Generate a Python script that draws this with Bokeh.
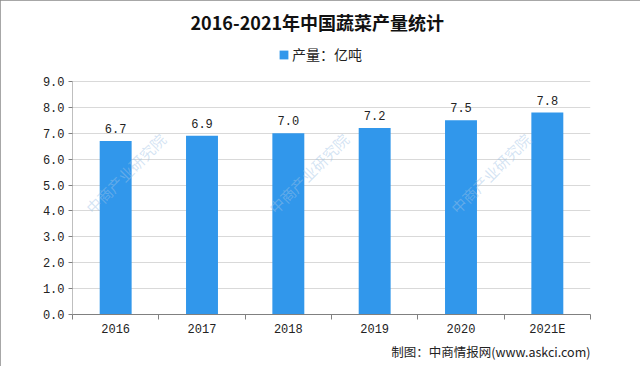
import math
from bokeh.plotting import figure
from bokeh.models import (Range1d, FixedTicker, PrintfTickFormatter, Legend, LegendItem,
                          Label, ColumnDataSource, Title)
from bokeh.core.properties import value
from bokeh.embed import file_html
from bokeh.resources import INLINE

# ---- data ----
years = ["2016", "2017", "2018", "2019", "2020", "2021E"]
output = [6.7, 6.9, 7.0, 7.2, 7.5, 7.8]
y_ticks = [0, 1, 2, 3, 4, 5, 6, 7, 8, 9]
title_text = "2016-2021年中国蔬菜产量统计"
legend_text = "产量：亿吨"
source_text = "制图：中商情报网(www.askci.com)"
watermark_text = "中商产业研究院"

# ---- layout ----
W, H = 640, 366
L, R, T, B = 72, 50, 40, 52
n = len(years)
ymin, ymax = y_ticks[0], y_ticks[-1]
px_per_unit = 233 / (ymax - ymin)          # 9.0 -> 0.0 spans 233 px in the reference
frame_h = H - T - B
ytop = ymin + frame_h / px_per_unit         # room above 9.0 for the legend
frame_w = W - L - R
BAR = "#3197EB"
AX = "#808080"
CJK = "Noto Sans CJK SC"
NUM = "Liberation Mono"


def to_data(px, py):
    """canvas pixel -> data coords"""
    return (px - L) / (frame_w / n), (T + frame_h - py) / px_per_unit


xs = [i + 0.5 for i in range(n)]
src = ColumnDataSource(dict(x=xs, v=output, lab=["%.1f" % v for v in output]))

p = figure(width=W, height=H, output_backend="svg", toolbar_location=None,
           x_range=Range1d(0, n), y_range=Range1d(ymin, ytop),
           min_border_left=L, min_border_right=R, min_border_top=T, min_border_bottom=B)
p.background_fill_color = "white"
p.border_fill_color = "white"
p.outline_line_color = None
p.styles = {"outline": "1px solid #8a8a8a", "outline-offset": "-1px"}

# watermarks (faint, inside plot area)
for px, py in ((80, 218), (263, 218), (445, 218)):
    wx, wy = to_data(px + 8, py - 8)
    p.add_layout(Label(x=wx, y=wy, text=watermark_text, angle=math.pi / 4,
                       text_font=CJK, text_font_size="15px", text_color="#9fc3e6",
                       text_alpha=0.45, text_align="left", text_baseline="middle"),
                 "center")

bars = p.vbar(x="x", top="v", width=0.37, source=src, fill_color=BAR, line_color=None)
p.text(x="x", y="v", text="lab", source=src, y_offset=-8, text_align="center",
       text_baseline="bottom", text_font=value(NUM), text_font_size="12px", text_color="#222222")

# y axis line only from 0.0 to 9.0
p.segment(x0=[0], y0=[ymin], x1=[0], y1=[ymax], line_color=AX, line_width=1)

# axes
p.xaxis.ticker = FixedTicker(ticks=xs, minor_ticks=list(range(n + 1)))
p.xaxis.major_label_overrides = {x: y for x, y in zip(xs, years)}
p.xaxis.major_tick_line_color = None
p.xaxis.major_tick_out = 0
p.xaxis.major_tick_in = 0
p.xaxis.minor_tick_line_color = AX
p.xaxis.minor_tick_out = 5
p.xaxis.minor_tick_in = 0
p.xaxis.axis_line_color = AX
p.xaxis.major_label_standoff = 3
p.xaxis.major_label_text_font = NUM
p.xaxis.major_label_text_font_size = "12px"
p.xaxis.major_label_text_color = "#222222"

p.yaxis.ticker = FixedTicker(ticks=y_ticks)
p.yaxis.formatter = PrintfTickFormatter(format="%.1f")
p.yaxis.major_tick_out = 4
p.yaxis.major_tick_in = 0
p.yaxis.minor_tick_line_color = None
p.yaxis.major_tick_line_color = AX
p.yaxis.axis_line_color = None
p.yaxis.major_label_standoff = 4
p.yaxis.major_label_text_font = NUM
p.yaxis.major_label_text_font_size = "12px"
p.yaxis.major_label_text_color = "#222222"

p.xgrid.grid_line_color = None
p.ygrid.grid_line_color = "#d9d9d9"

# legend (inside the extended plot area, above 9.0)
legend = Legend(items=[LegendItem(label=legend_text, renderers=[bars])],
                location=(278 - L, frame_h - (57 - T) - 7), orientation="horizontal",
                padding=0, margin=0, spacing=0, glyph_width=11, glyph_height=11,
                label_standoff=3, label_height=14, border_line_color=None,
                background_fill_alpha=0, label_text_font=CJK,
                label_text_font_size="14px", label_text_color="#222222")
p.add_layout(legend, "center")

# title
p.title.text = title_text
p.title.align = "left"
p.title.offset = 118
p.title.standoff = 11
p.title.text_font = CJK
p.title.text_font_size = "18px"
p.title.text_font_style = "bold"
p.title.text_color = "#111111"

# source note below
p.add_layout(Title(text=source_text, align="right", offset=0, standoff=0,
                   text_line_height=1.0,
                   text_font=CJK, text_font_size="12.5px", text_font_style="normal",
                   text_color="#222222"), "below")

open("out.html", "w").write(file_html(p, INLINE))
